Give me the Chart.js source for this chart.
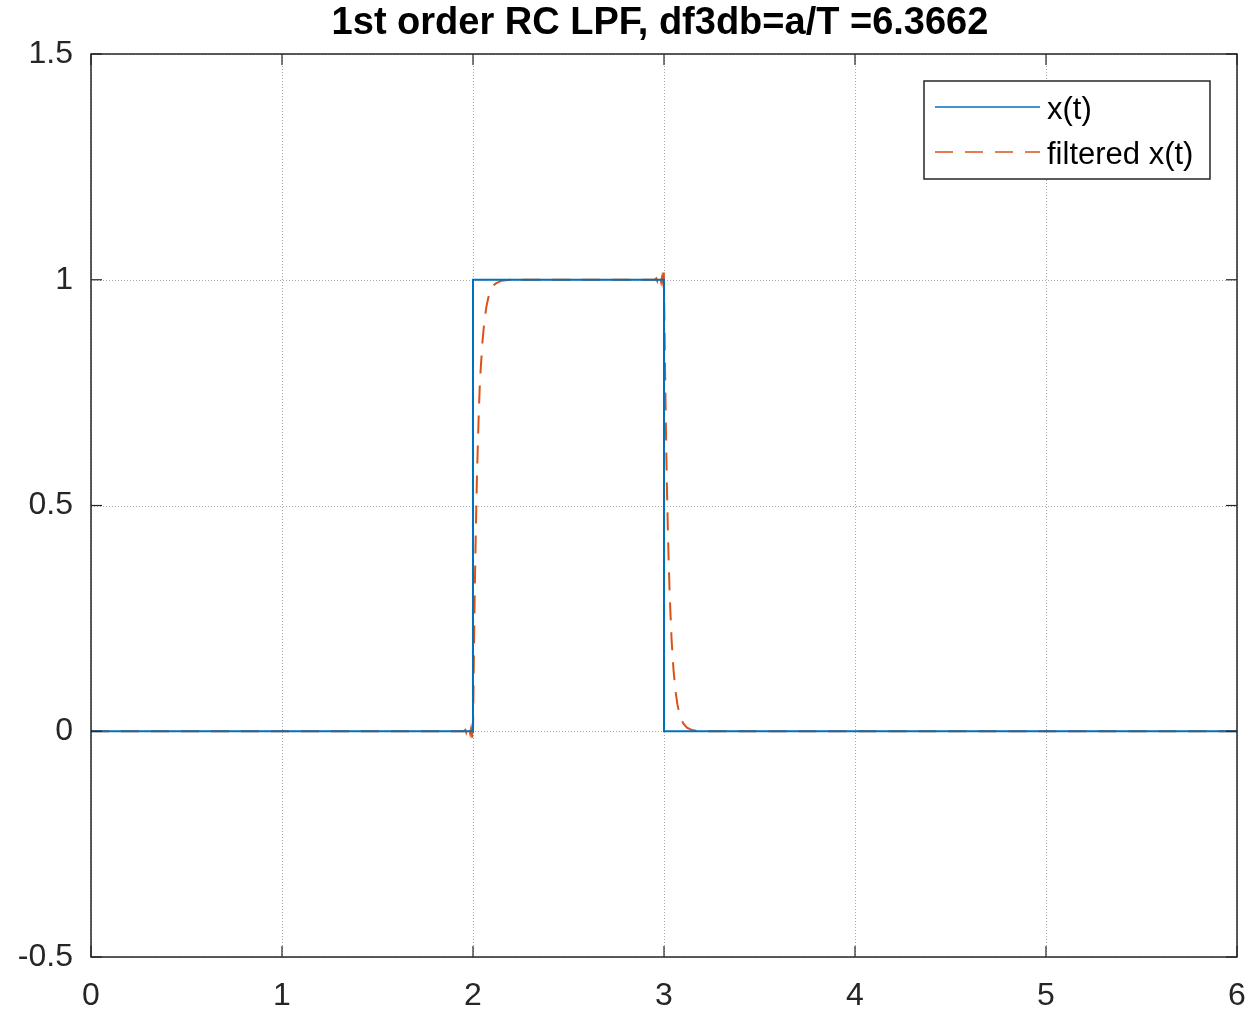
<!DOCTYPE html>
<html>
<head>
<meta charset="utf-8">
<script src="https://cdn.jsdelivr.net/npm/chart.js@4.4.1/dist/chart.umd.min.js"></script>
<style>
html,body{margin:0;padding:0;background:#fff;}
#wrap{width:1251px;height:1011px;position:relative;}
</style>
</head>
<body>
<div id="wrap"><canvas id="c" width="1251" height="1011"></canvas></div>
<script>
// ---- data ----
const titleText = "1st order RC LPF, df3db=a/T =6.3662";
const seriesNames = ["x(t)", "filtered x(t)"];
const xTicks = [0, 1, 2, 3, 4, 5, 6];
const yTicks = [-0.5, 0, 0.5, 1, 1.5];

const tInput = [0, 2, 2, 3, 3, 6];
const vInput = [0, 0, 1, 1, 0, 0];

const tFiltered = [0, 1.95, 1.96, 1.965, 1.97, 1.975, 1.98, 1.985, 1.99, 1.995, 1.998, 2.0, 2.002, 2.005, 2.01, 2.015, 2.02, 2.025, 2.03, 2.035, 2.04, 2.05, 2.06, 2.07, 2.08, 2.09, 2.1, 2.12, 2.15, 2.2, 2.95, 2.96, 2.965, 2.97, 2.975, 2.98, 2.985, 2.99, 2.995, 2.999, 3.002, 3.005, 3.01, 3.015, 3.02, 3.025, 3.03, 3.04, 3.05, 3.06, 3.07, 3.08, 3.1, 3.12, 3.15, 3.2, 6];
const vFiltered = [0, 0, 0.003, -0.003, 0.004, -0.004, 0.005, -0.005, 0.006, -0.008, -0.023, -0.005, 0.07, 0.18, 0.33, 0.45, 0.55, 0.63, 0.70, 0.76, 0.80, 0.865, 0.91, 0.94, 0.96, 0.975, 0.985, 0.992, 0.998, 1.0, 1.0, 1.003, 0.997, 1.004, 0.996, 1.005, 0.995, 1.006, 0.993, 1.022, 0.92, 0.82, 0.67, 0.55, 0.45, 0.37, 0.30, 0.20, 0.135, 0.09, 0.06, 0.04, 0.018, 0.008, 0.002, 0, 0];

const colors = ["#0072BD", "#D95319"];
const axisColor = "#262626";
const FONT = "'Liberation Sans', Arial, Helvetica, sans-serif";

const toPts = (ts, vs) => ts.map((t, i) => ({x: t, y: vs[i]}));

const overlay = {
  id: 'overlay',
  beforeDatasetsDraw(chart) {
    const {ctx, chartArea: a, scales: {x, y}} = chart;
    ctx.save();
    ctx.strokeStyle = "rgba(38,38,38,0.4)";
    ctx.lineWidth = 1;
    ctx.setLineDash([1, 2]);
    xTicks.forEach(v => {
      const px = Math.round(x.getPixelForValue(v)) + 0.5;
      ctx.beginPath(); ctx.moveTo(px, a.top); ctx.lineTo(px, a.bottom); ctx.stroke();
    });
    yTicks.forEach(v => {
      const py = Math.round(y.getPixelForValue(v)) + 0.5;
      ctx.beginPath(); ctx.moveTo(a.left, py); ctx.lineTo(a.right, py); ctx.stroke();
    });
    ctx.restore();
  },
  afterDatasetsDraw(chart) {
    const {ctx, chartArea: a, scales: {x, y}} = chart;
    ctx.save();
    ctx.strokeStyle = axisColor;
    ctx.lineWidth = 1.5;
    ctx.setLineDash([]);
    ctx.strokeRect(a.left, a.top, a.right - a.left, a.bottom - a.top);
    const L = 11;
    ctx.lineWidth = 1.2;
    xTicks.forEach(v => {
      const px = x.getPixelForValue(v);
      ctx.beginPath(); ctx.moveTo(px, a.bottom); ctx.lineTo(px, a.bottom - L); ctx.stroke();
      ctx.beginPath(); ctx.moveTo(px, a.top); ctx.lineTo(px, a.top + L); ctx.stroke();
    });
    yTicks.forEach(v => {
      const py = y.getPixelForValue(v);
      ctx.beginPath(); ctx.moveTo(a.left, py); ctx.lineTo(a.left + L, py); ctx.stroke();
      ctx.beginPath(); ctx.moveTo(a.right, py); ctx.lineTo(a.right - L, py); ctx.stroke();
    });
    // title
    ctx.fillStyle = "#000";
    ctx.font = "bold 38px " + FONT;
    ctx.textAlign = "center";
    ctx.textBaseline = "middle";
    ctx.fillText(titleText, (a.left + a.right) / 2 - 4, 24);
    // legend
    const bx = 924, by = 81, bw = 286, bh = 98;
    ctx.fillStyle = "#fff";
    ctx.fillRect(bx, by, bw, bh);
    ctx.strokeStyle = axisColor;
    ctx.lineWidth = 1.5;
    ctx.strokeRect(bx, by, bw, bh);
    ctx.font = "31px " + FONT;
    ctx.textAlign = "left";
    chart.data.datasets.forEach((ds, i) => {
      const ly = by + 26 + i * 45;
      ctx.strokeStyle = ds.borderColor;
      ctx.lineWidth = 1.6;
      ctx.setLineDash(ds.borderDash || []);
      ctx.beginPath(); ctx.moveTo(935, ly); ctx.lineTo(1040, ly); ctx.stroke();
      ctx.setLineDash([]);
      ctx.fillStyle = "#000";
      ctx.fillText(ds.label, 1047, ly + 3);
    });
    ctx.restore();
  }
};

new Chart(document.getElementById('c'), {
  type: 'line',
  data: {
    datasets: [
      {label: seriesNames[0], data: toPts(tInput, vInput), borderColor: colors[0], borderWidth: 2, pointRadius: 0, tension: 0, fill: false},
      {label: seriesNames[1], data: toPts(tFiltered, vFiltered), borderColor: colors[1], borderWidth: 2, borderDash: [18, 12], pointRadius: 0, tension: 0, fill: false}
    ]
  },
  options: {
    responsive: false,
    animation: false,
    devicePixelRatio: 1,
    layout: {padding: {top: 54, right: 14, left: 0, bottom: 0}},
    plugins: {legend: {display: false}, title: {display: false}, tooltip: {enabled: false}},
    scales: {
      x: {
        type: 'linear', min: 0, max: 6,
        afterFit(s) { s.height = 54; s.paddingLeft = 0; s.paddingRight = 0; },
        afterBuildTicks(s) { s.ticks = xTicks.map(v => ({value: v})); },
        ticks: {color: axisColor, font: {family: FONT, size: 32}, padding: 20, maxRotation: 0, callback: v => String(v)},
        grid: {display: false, drawTicks: false},
        border: {display: false}
      },
      y: {
        type: 'linear', min: -0.5, max: 1.5,
        afterFit(s) { s.width = 91; s.paddingTop = 0; s.paddingBottom = 0; },
        afterBuildTicks(s) { s.ticks = yTicks.map(v => ({value: v})); },
        ticks: {color: axisColor, font: {family: FONT, size: 32}, padding: 18, callback: v => String(v)},
        grid: {display: false, drawTicks: false},
        border: {display: false}
      }
    }
  },
  plugins: [overlay]
});
</script>
</body>
</html>
